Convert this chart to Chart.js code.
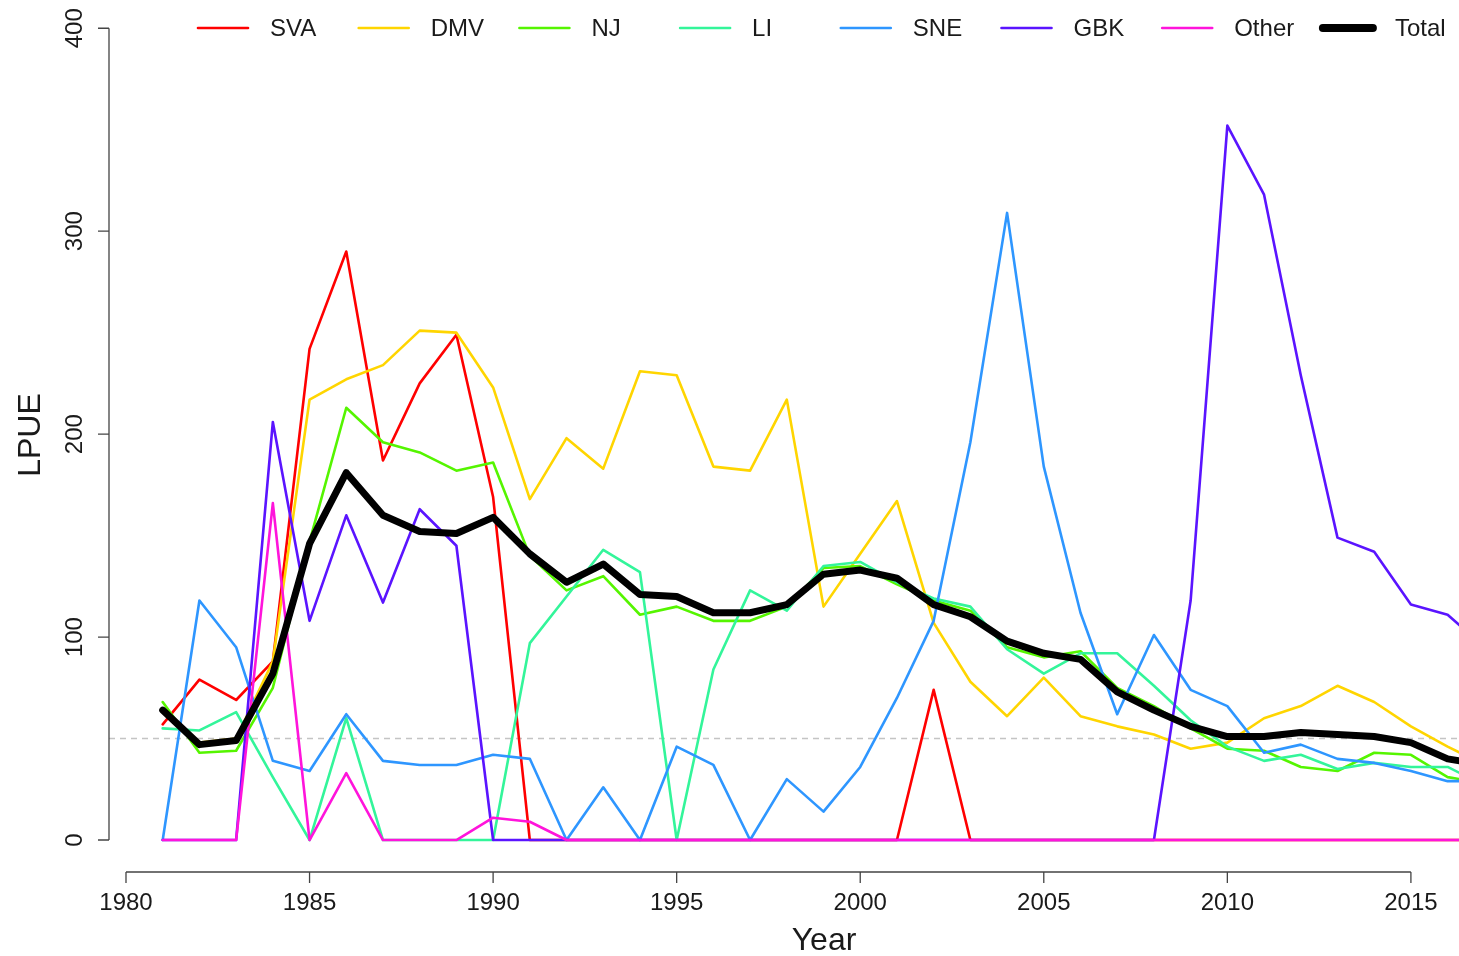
<!DOCTYPE html>
<html>
<head>
<meta charset="utf-8">
<script src="https://cdn.jsdelivr.net/npm/chart.js@4.4.0/dist/chart.umd.min.js"></script>
<style>
  body { margin: 0; background: #fff; }
  #wrap { width: 1459px; height: 956px; }
</style>
</head>
<body>
<div id="wrap"><canvas id="lpueChart" width="1459" height="956"></canvas></div>
<script>
// years 1981 - 2017 (last point is past the right edge of the plot)
var years = [];
for (var yr = 1981; yr <= 2017; yr++) years.push(yr);

var seriesNames = ["SVA", "DMV", "NJ", "LI", "SNE", "GBK", "Other", "Total"];
var seriesColors = ["#FF0000", "#FFD500", "#55F500", "#33F59A", "#2E96FF", "#5A14FF", "#FF14DB", "#000000"];

var sva   = [57, 79, 69, 88, 242, 290, 187, 225, 249, 169, 0, 0, 0, 0, 0, 0, 0, 0, 0, 0, 0, 74, 0, 0, 0, 0, 0, 0, 0, 0, 0, 0, 0, 0, 0, 0, 0];
var dmv   = [63, 48, 50, 88, 217, 227, 234, 251, 250, 223, 168, 198, 183, 231, 229, 184, 182, 217, 115, 141, 167, 107, 78, 61, 80, 61, 56, 52, 45, 48, 60, 66, 76, 68, 56, 46, 37];
var nj    = [68, 43, 44, 75, 147, 213, 196, 191, 182, 186, 140, 123, 130, 111, 115, 108, 108, 115, 134, 135, 126, 118, 113, 95, 90, 93, 75, 66, 55, 45, 44, 36, 34, 43, 42, 31, 28];
var li    = [55, 54, 63, 31, 0, 60, 0, 0, 0, 0, 97, 120, 143, 132, 0, 84, 123, 113, 135, 137, 127, 119, 115, 94, 82, 92, 92, 76, 59, 46, 39, 42, 35, 38, 36, 36, 27];
var sne   = [0, 118, 95, 39, 34, 62, 39, 37, 37, 42, 40, 0, 26, 0, 46, 37, 0, 30, 14, 36, 70, 108, 196, 309, 184, 112, 62, 101, 74, 66, 43, 47, 40, 38, 34, 29, 29];
var gbk   = [0, 0, 0, 206, 108, 160, 117, 163, 145, 0, 0, 0, 0, 0, 0, 0, 0, 0, 0, 0, 0, 0, 0, 0, 0, 0, 0, 0, 118, 352, 318, 229, 149, 142, 116, 111, 95];
var other = [0, 0, 0, 166, 0, 33, 0, 0, 0, 11, 9, 0, 0, 0, 0, 0, 0, 0, 0, 0, 0, 0, 0, 0, 0, 0, 0, 0, 0, 0, 0, 0, 0, 0, 0, 0, 0];
var total = [64, 47, 49, 82, 146, 181, 160, 152, 151, 159, 141, 127, 136, 121, 120, 112, 112, 116, 131, 133, 129, 116, 110, 98, 92, 89, 73, 64, 56, 51, 51, 53, 52, 51, 48, 40, 37];

var allSeries = [sva, dmv, nj, li, sne, gbk, other, total];

var xTicks = [1980, 1985, 1990, 1995, 2000, 2005, 2010, 2015];
var yTicks = [0, 100, 200, 300, 400];
var refLine = 50;

var datasets = [];
$each = function(arr, fn){ for (var i = 0; i < arr.length; i++) fn(i, arr[i]); };
$each(seriesNames, function(i, name){
  var pts = [];
  for (var k = 0; k < years.length; k++) pts.push({x: years[k], y: allSeries[i][k]});
  datasets.push({
    label: name,
    data: pts,
    borderColor: seriesColors[i],
    backgroundColor: seriesColors[i],
    borderWidth: name == "Total" ? 7 : 2.6,
    borderJoinStyle: "round",
    borderCapStyle: "round",
    pointRadius: 0,
    tension: 0,
    fill: false,
    order: seriesNames.length - i
  });
});

var FONT = '"Liberation Sans", Arial, Helvetica, sans-serif';

// R style axes, titles and legend, placed through the chart scales
var rStyle = {
  id: "rStyle",
  beforeDatasetsDraw: function(chart){
    var ctx = chart.ctx, a = chart.chartArea;
    var yp = chart.scales.y.getPixelForValue(refLine);
    ctx.save();
    ctx.strokeStyle = "#c4c4c4";
    ctx.lineWidth = 1.5;
    ctx.setLineDash([6, 5]);
    ctx.beginPath();
    ctx.moveTo(a.left, yp);
    ctx.lineTo(a.right, yp);
    ctx.stroke();
    ctx.restore();
  },
  afterDraw: function(chart){
    var ctx = chart.ctx, a = chart.chartArea;
    var xs = chart.scales.x, ys = chart.scales.y;
    ctx.save();
    ctx.strokeStyle = "#444";
    ctx.lineWidth = 1.3;
    ctx.fillStyle = "#1a1a1a";

    // x axis
    var xa = a.bottom;
    ctx.beginPath();
    ctx.moveTo(xs.getPixelForValue(xTicks[0]), xa);
    ctx.lineTo(xs.getPixelForValue(xTicks[xTicks.length - 1]), xa);
    $each(xTicks, function(i, v){
      var p = xs.getPixelForValue(v);
      ctx.moveTo(p, xa);
      ctx.lineTo(p, xa + 11);
    });
    ctx.stroke();
    ctx.font = "24px " + FONT;
    ctx.textAlign = "center";
    ctx.textBaseline = "middle";
    $each(xTicks, function(i, v){
      ctx.fillText(String(v), xs.getPixelForValue(v), 903);
    });
    ctx.font = "32px " + FONT;
    ctx.fillText("Year", 824, 941);

    // y axis
    var ya = a.left;
    ctx.beginPath();
    ctx.moveTo(ya, ys.getPixelForValue(yTicks[0]));
    ctx.lineTo(ya, ys.getPixelForValue(yTicks[yTicks.length - 1]));
    $each(yTicks, function(i, v){
      var p = ys.getPixelForValue(v);
      ctx.moveTo(ya, p);
      ctx.lineTo(ya - 11, p);
    });
    ctx.stroke();
    ctx.font = "24px " + FONT;
    $each(yTicks, function(i, v){
      ctx.save();
      ctx.translate(75, ys.getPixelForValue(v));
      ctx.rotate(-Math.PI / 2);
      ctx.fillText(String(v), 0, 0);
      ctx.restore();
    });
    ctx.save();
    ctx.font = "32px " + FONT;
    ctx.translate(31, 435);
    ctx.rotate(-Math.PI / 2);
    ctx.fillText("LPUE", 0, 0);
    ctx.restore();

    // legend
    ctx.font = "24px " + FONT;
    ctx.textAlign = "left";
    ctx.lineCap = "round";
    $each(chart.data.datasets, function(i, ds){
      var lx = 198 + i * 160.7;
      ctx.strokeStyle = ds.borderColor;
      ctx.lineWidth = ds.label == "Total" ? 8 : 2.6;
      ctx.beginPath();
      ctx.moveTo(lx, 28);
      ctx.lineTo(lx + 50, 28);
      ctx.stroke();
      ctx.fillText(ds.label, lx + 72, 29);
    });
    ctx.restore();
  }
};

var chart = new Chart(document.getElementById("lpueChart"), {
  type: "line",
  data: { datasets: datasets },
  options: {
    responsive: false,
    animation: false,
    devicePixelRatio: 1,
    layout: { padding: { left: 109, right: 0, top: 12, bottom: 84 } },
    plugins: { legend: { display: false }, tooltip: { enabled: false } },
    scales: {
      x: { type: "linear", min: 1979.537, max: 2016.31, display: false },
      y: { type: "linear", min: -15.76, max: 408, display: false }
    }
  },
  plugins: [rStyle]
});
</script>
</body>
</html>
